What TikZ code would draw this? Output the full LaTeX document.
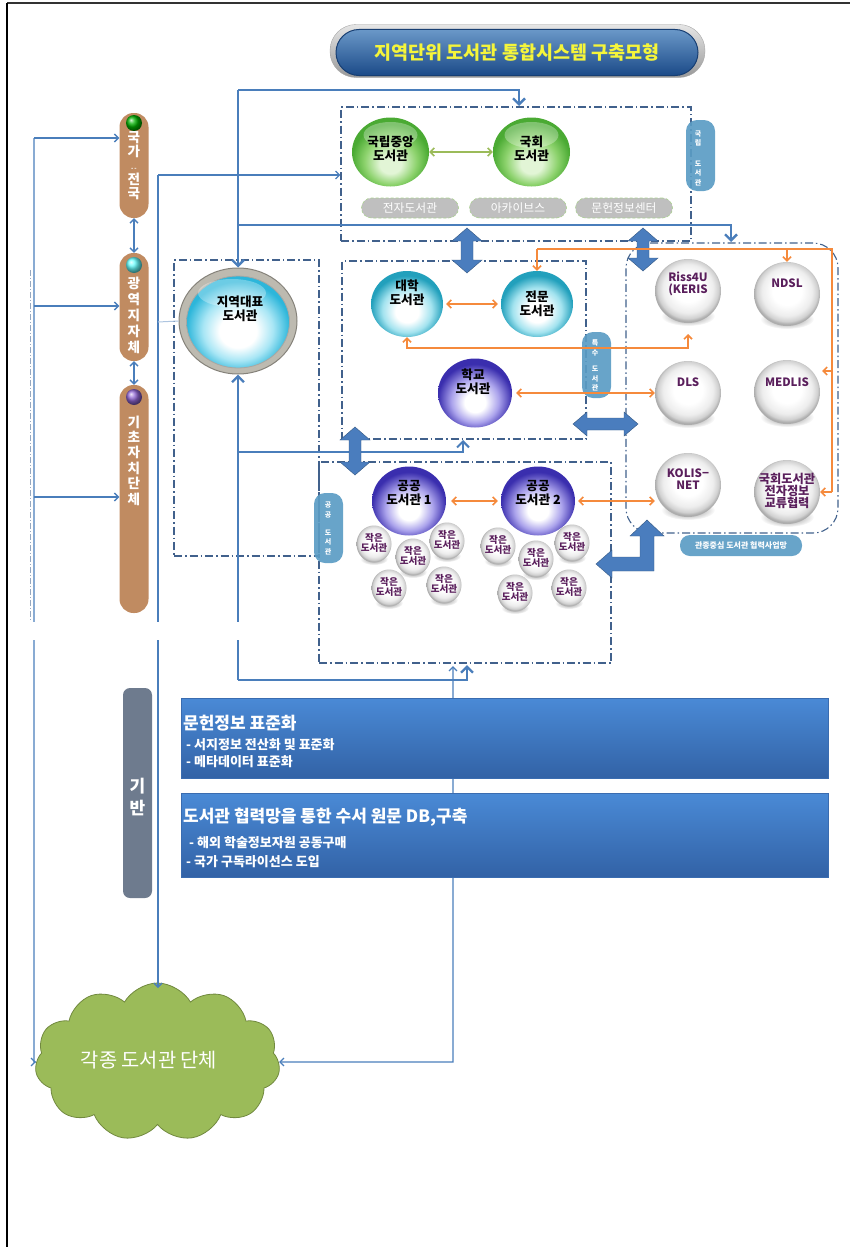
\documentclass[tikz,border=0pt]{standalone}
\usepackage{fontspec}
\setmainfont{Noto Sans CJK KR}
\usetikzlibrary{shapes.geometric,shapes.symbols,arrows.meta,calc}

\definecolor{lnblue}{HTML}{4A7EBB}
\definecolor{dashblue}{HTML}{41618C}
\definecolor{orng}{HTML}{F58A3C}
\definecolor{olivegr}{HTML}{9BBB59}
\definecolor{brownpill}{HTML}{C08B61}
\definecolor{tagblue}{HTML}{5B9CC4}
\definecolor{purpletext}{HTML}{5A1F5C}
\definecolor{cloudgreen}{HTML}{9BBB59}
\definecolor{cloudedge}{HTML}{71893F}
\definecolor{slate}{HTML}{6E7B8E}
\definecolor{titleyellow}{HTML}{F5F53A}
\definecolor{ttop}{HTML}{6A98C8}
\definecolor{tbot}{HTML}{1B4A88}
\definecolor{tedge}{HTML}{173E72}
\definecolor{bxtop}{HTML}{4A8AD6}
\definecolor{bxbot}{HTML}{3262A6}
\definecolor{bxedge}{HTML}{3A6CB0}
\definecolor{pillgray}{HTML}{BFBFBF}
\definecolor{pillgreen}{HTML}{A9D18E}
\definecolor{blockblue}{HTML}{4A7DBE}
\definecolor{gRim}{HTML}{4AAA33}
\definecolor{gMid}{HTML}{8CD26C}
\definecolor{gIn}{HTML}{E2F5D6}
\definecolor{cRim}{HTML}{22A0BC}
\definecolor{cMid}{HTML}{A3E3EF}
\definecolor{pRim}{HTML}{3A2EAE}
\definecolor{pMid}{HTML}{ABA3EC}
\definecolor{bRim}{HTML}{2DB6DA}
\definecolor{bMid}{HTML}{A8E6F5}
\definecolor{ringC}{HTML}{BDBAB0}
\definecolor{ringE}{HTML}{85827A}

\pgfdeclareradialshading{shGreen}{\pgfpoint{0bp}{-10bp}}{color(0bp)=(gIn); color(7bp)=(gIn); color(17bp)=(gMid); color(25bp)=(gRim); color(50bp)=(gRim)}
\pgfdeclareradialshading{shCyan}{\pgfpoint{0bp}{-7bp}}{color(0bp)=(white); color(8bp)=(white); color(17bp)=(cMid); color(25bp)=(cRim); color(50bp)=(cRim)}
\pgfdeclareradialshading{shPurple}{\pgfpoint{0bp}{-8bp}}{color(0bp)=(white); color(7bp)=(white); color(16bp)=(pMid); color(25bp)=(pRim); color(50bp)=(pRim)}
\pgfdeclareradialshading{shBig}{\pgfpoint{0bp}{-6bp}}{color(0bp)=(white); color(9bp)=(white); color(17bp)=(bMid); color(25bp)=(bRim); color(50bp)=(bRim)}
\pgfdeclareradialshading{shGray}{\pgfpoint{0bp}{3bp}}{color(0bp)=(white); color(11bp)=(white); color(19bp)=(black!7); color(23bp)=(black!18); color(25bp)=(black!32); color(50bp)=(black!32)}

\newcommand\vdblarrow[3]{%
  \fill[blockar] (#1,#2) -- ++(15,13) -- ++(-9,0) -- (#1+6,#3-13) -- ++(9,0) -- (#1,#3)
    -- ++(-15,-13) -- ++(9,0) -- (#1-6,#2+13) -- ++(-9,0) -- cycle;}
\newcommand\hdblarrow[3]{%
  \fill[blockar] (#2,#1) -- ++(14,-12) -- ++(0,6) -- (#3-14,#1-6) -- ++(0,-6) -- (#3,#1)
    -- ++(-14,12) -- ++(0,-6) -- (#2+14,#1+6) -- ++(0,6) -- cycle;}

\begin{document}
\begin{tikzpicture}[x=1pt,y=-1pt,
  thk/.style={draw=lnblue, line width=2.4pt},
  thn/.style={draw=lnblue, line width=1.3pt},
  ora/.style={draw=orng, line width=1.6pt},
  arrL/.style={-{Straight Barb[length=6pt,width=12pt]}},
  arrS/.style={-{Straight Barb[length=4pt,width=8pt]}},
  arrSS/.style={{Straight Barb[length=4pt,width=8pt]}-{Straight Barb[length=4pt,width=8pt]}},
  dd/.style={draw=dashblue, line width=1.1pt, dash pattern=on 8pt off 3pt on 1.5pt off 3pt, rectangle, inner sep=0pt},
  blockar/.style={fill=blockblue, draw=lnblue!70!black, line width=0.4pt},
  sphG/.style={ellipse, inner sep=0pt, minimum width=77pt, minimum height=69pt, shading=shGreen},
  sphC/.style={ellipse, inner sep=0pt, minimum width=72pt, minimum height=66pt, shading=shCyan},
  sphP/.style={ellipse, inner sep=0pt, minimum width=74pt, minimum height=69pt, shading=shPurple},
  sphY/.style={ellipse, inner sep=0pt, minimum width=66pt, minimum height=64pt, shading=shGray},
  smallsph/.style={ellipse, inner sep=0pt, minimum width=35pt, minimum height=37pt, shading=shGray},
  lbl/.style={font=\fontsize{12.6}{14}\selectfont\bfseries, align=center, inner sep=0pt},
  glbl/.style={font=\fontsize{11.5}{12.5}\selectfont\bfseries, align=center, text=purpletext, inner sep=0pt},
  stxt/.style={font=\fontsize{9.6}{10}\selectfont\bfseries, align=center, text=purpletext, inner sep=0pt},
  pill/.style={rectangle, rounded corners=14pt, fill=brownpill, minimum width=29pt, inner sep=0pt},
  ptxt/.style={text=white, align=center, inner sep=0pt},
  tag/.style={rectangle, rounded corners=11pt, fill=tagblue, fill opacity=0.92, minimum width=29pt, inner sep=0pt},
  tagtxt/.style={text=white, align=center, inner sep=0pt},
  gpill/.style={rectangle, rounded corners=10pt, minimum width=97pt, minimum height=20pt, fill=pillgray, draw=pillgreen, densely dashed, line width=0.6pt, text=white, font=\fontsize{11.8}{12}\selectfont, inner sep=0pt},
  bbox/.style={rectangle, inner sep=0pt, top color=bxtop, bottom color=bxbot, draw=bxedge, line width=0.6pt},
  bhead/.style={font=\fontsize{17}{18}\selectfont\bfseries, text=white, inner sep=0pt, anchor=west},
  bsub/.style={font=\fontsize{13}{14}\selectfont\bfseries, text=white, inner sep=0pt, anchor=west}
]
\useasboundingbox (0,0) rectangle (850,1247);

% frame
\draw[black!80, line width=1.2pt] (850,3) -- (7,3);
\draw[black, line width=1.5pt] (7,3) -- (7,1247);

% title
\node[rectangle, rounded corners=26pt, minimum width=375pt, minimum height=53pt, top color=black!10, bottom color=black!40, draw=black!35, inner sep=0pt] (tout) at (517.5,51) {};
\node[rectangle, rounded corners=23pt, minimum width=362pt, minimum height=46pt, top color=ttop, bottom color=tbot, draw=tedge, line width=1pt, inner sep=0pt] (tinner) at (517,52.5) {};
\node[font=\fontsize{18.5}{19}\selectfont\bfseries, text=titleyellow, inner sep=0pt] (ttl) at (517,53) {지역단위 도서관 통합시스템 구축모형};

% dashed boxes
\node[dd, minimum width=350pt, minimum height=134pt] (nlbox) at (516,174) {};
\node[dd, minimum width=145pt, minimum height=296pt] (jbox) at (246.5,408) {};
\node[dd, minimum width=244pt, minimum height=178pt] (tbox) at (464,350) {};
\node[dd, minimum width=292pt, minimum height=201pt] (gbox) at (465,562.5) {};
\node[dd, rounded corners=25pt, minimum width=212pt, minimum height=290pt] (rbox) at (732,388) {};
\draw[dashblue!55, line width=0.6pt, dash pattern=on 6pt off 2pt on 1pt off 2pt] (30,270) -- (30,620);

% coordinates
\coordinate (u1) at (238,90);
\coordinate (u2) at (238,225);
\coordinate (nlin) at (519,106);
\coordinate (rin) at (731,242);
\coordinate (d1) at (238,680);
\coordinate (d2) at (238,452);
\coordinate (tin) at (463,440);
\coordinate (gin) at (467,665);
\coordinate (a1) at (34,138);
\coordinate (a2) at (34,306);
\coordinate (a3) at (34,497);
\coordinate (a4) at (34,1062);
\coordinate (b1) at (158,175);
\coordinate (b2) at (158,322);
\coordinate (b3) at (158,988);
\coordinate (c1) at (453,666);
\coordinate (c2) at (453,1062);
\coordinate (oR) at (688,348);
\coordinate (oT) at (688,334);
\coordinate (p1) at (537,249);
\coordinate (p2) at (832,249);
\coordinate (p3) at (832,492);
\coordinate (p4) at (787,249);
\coordinate (p5) at (832,371);
\coordinate (p6) at (822,371);

% pills (left)
\node[pill, minimum height=105pt] (gk) at (134,165.5) {};
\node[pill, minimum height=108pt] (gw) at (134,307) {};
\node[pill, minimum height=228pt] (gc) at (134,499) {};
\node[circle, minimum size=16pt, inner sep=0pt, ball color=green!70!black] (gkc) at (134,123) {};
\node[circle, minimum size=16pt, inner sep=0pt, ball color=cyan!60] (gwc) at (134,265) {};
\node[circle, minimum size=16pt, inner sep=0pt, ball color=blue!45!violet!60] (gcc) at (134,397) {};
\node[ptxt, font=\fontsize{13.6}{14}\selectfont\bfseries] (gk-t) at (134,166) {국\\가\\{\fontsize{6}{6}\selectfont -\,-}\\전\\국};
\node[ptxt, font=\fontsize{13.6}{16}\selectfont\bfseries] (gw-t) at (134,315.5) {광\\역\\지\\자\\체};
\node[ptxt, font=\fontsize{13.6}{15.4}\selectfont\bfseries] (gc-t) at (134,460.5) {기\\초\\자\\치\\단\\체};

% cloud
\node[cloud, cloud puffs=11, cloud puff arc=120, aspect=1.55, minimum width=245pt, minimum height=158pt, fill=cloudgreen, draw=cloudedge, line width=0.8pt, inner sep=0pt] (cloud) at (157.5,1062) {};
\node[font=\fontsize{19.8}{20}\selectfont, text=white, inner sep=0pt] (cloud-t) at (149,1060) {각종 도서관 단체};

% thin connectors
\draw[thn] (a1) -- (a4) -- (cloud.west);
\draw[thn, arrS] (a4) -- (cloud.west);
\draw[thn, arrS] (a1) -- (a1 -| gk.west);
\draw[thn, arrS] (a2) -- (a2 -| gw.west);
\draw[thn, arrS] (a3) -- (a3 -| gc.west);
\draw[thn, arrS] (b1) -- (b3);
\draw[thn, arrS] (b1) -- (b1 -| nlbox.west);
\draw[thn, arrSS] (gk.south) -- (gw.north);
\draw[thn, arrSS] (gw.south) -- (gc.north);
\draw[thn, arrSS] (c1) -- (c2) -- (cloud.east);

% ring node for jiyeok
\node[ellipse, minimum width=118pt, minimum height=106pt, fill=ringC, draw=ringE, line width=1pt, inner sep=0pt] (jr) at (238,321) {};
\draw[lnblue!45, line width=1pt] (b2) -- (jr.west);

% thick connectors
\draw[thk, arrL] (u1) -- (jr.north);
\draw[thk, arrL] (u1) -| (nlin);
\draw[thk, arrL] (u2) -| (rin);
\draw[thk, arrL] (d1) -- (jr.south);
\draw[thk, line width=2pt, arrL] (d2) -| (tin);
\draw[thk, arrL] (d1) -| (gin);

% gap (page break)
\fill[white] (9,622) rectangle (310,640);

% bottom blue boxes
\node[bbox, minimum width=647pt, minimum height=80pt] (bx1) at (504.5,738) {};
\node[bbox, minimum width=647pt, minimum height=84pt] (bx2) at (504.5,835) {};
\node[bhead] (bx1h) at (183,723) {문헌정보 표준화};
\node[bsub] (bx1a) at (186,745) {- 서지정보 전산화 및 표준화};
\node[bsub] (bx1b) at (186,762) {- 메타데이터 표준화};
\node[bhead] (bx2h) at (183,817) {도서관 협력망을 통한 수서 원문 DB,구축};
\node[bsub] (bx2a) at (189,843) {- 해외 학술정보자원 공동구매};
\node[bsub] (bx2b) at (186,862) {- 국가 구독라이선스 도입};
\node[rectangle, rounded corners=7pt, fill=slate, minimum width=29pt, minimum height=210pt, inner sep=0pt] (gib) at (137.5,793) {};
\node[ptxt, font=\fontsize{17}{22}\selectfont\bfseries] (gib-t) at (137.5,797) {기\\반};

% block arrows
\vdblarrow{467}{228}{273}
\vdblarrow{643}{228}{271}
\vdblarrow{355}{427}{475}
\hdblarrow{424}{573}{638}
\fill[blockar] (647,520) -- (664,536) -- (654,536) -- (654,571) -- (612,571) -- (612,578) -- (596,564)
  -- (612,550) -- (612,557) -- (640,557) -- (640,536) -- (630,536) -- cycle;

% tags
\node[tag, minimum height=71pt] (tagn) at (700.5,155.5) {};
\node[tagtxt, font=\fontsize{7}{9.5}\selectfont\bfseries] (tagn-t) at (698,158) {국\\립\\[11pt]도\\서\\관};
\node[tag, minimum height=66pt] (tags) at (596.5,365) {};
\node[tagtxt, font=\fontsize{7}{9.3}\selectfont\bfseries] (tags-t) at (595,365.5) {특\\수\\[7.5pt]도\\서\\관};
\node[tag, minimum height=70pt] (tagg) at (328.5,528) {};
\node[tagtxt, font=\fontsize{7}{9.6}\selectfont\bfseries] (tagg-t) at (328,528.5) {공\\공\\[8pt]도\\서\\관};
\node[tag, rounded corners=10pt, minimum width=122pt, minimum height=21pt] (tagr) at (741,545.5) {};
\node[tagtxt, font=\fontsize{8}{8}\selectfont\bfseries] (tagr-t) at (741,545.5) {관종중심 도서관 협력사업망};

% national library group
\node[sphG] (nlk) at (390.5,152) {};
\node[sphG] (nat) at (531.5,152) {};
\fill[white, opacity=0.3] (390.5,135) ellipse (27 and 13);
\fill[white, opacity=0.3] (531.5,135) ellipse (27 and 13);
\node[lbl] (nlk-t) at (390.5,149) {국립중앙\\도서관};
\node[lbl] (nat-t) at (531.5,149) {국회\\도서관};
\draw[olivegr, line width=1.5pt, arrSS] (nlk) -- (nat);
\node[gpill] (p-e) at (410,208) {전자도서관};
\node[gpill] (p-a) at (518,208) {아카이브스};
\node[gpill] (p-m) at (624,208) {문헌정보센터};

% jiyeok inner
\node[ellipse, minimum width=103pt, minimum height=92pt, shading=shBig, draw=ringE!70, line width=0.8pt, inner sep=0pt] (ji) at (238,322) {};
\fill[white, opacity=0.3] (232,293) ellipse (34 and 14);
\node[lbl] (ji-t) at (240,309) {지역대표\\도서관};

% special libraries
\node[sphC] (dh) at (407,304) {};
\node[sphC] (jm) at (537,304) {};
\node[sphP] (hk) at (475,393) {};
\node[lbl] (dh-t) at (407,293) {대학\\도서관};
\node[lbl] (jm-t) at (537,304) {전문\\도서관};
\node[lbl] (hk-t) at (473,382) {학교\\도서관};

% public libraries
\node[sphP] (g1) at (409,501) {};
\node[sphP] (g2) at (538,501) {};
\node[lbl] (g1-t) at (409,493) {공공\\도서관 1};
\node[lbl] (g2-t) at (538,493) {공공\\도서관 2};
\foreach \n/\x/\y in {1/374/544, 2/413/557, 3/447/541, 4/389/588, 5/444/585, 6/498/546, 7/536/559, 8/572/543, 9/515/593, 10/569/588}{
  \shade[inner color=black!45, outer color=white] (\x,\y+15) ellipse (14 and 6);
}
\foreach \n/\x/\y in {1/374/544, 2/413/557, 3/447/541, 4/389/588, 5/444/585, 6/498/546, 7/536/559, 8/572/543, 9/515/593, 10/569/588}{
  \node[smallsph] (s\n) at (\x,\y) {};
  \node[stxt] (s\n-t) at (\x,\y-1) {작은\\도서관};
}

% gray spheres
\foreach \x/\y in {688/291, 787/294, 688/393, 787/392, 688/485, 787/492}{
  \shade[inner color=black!50, outer color=white] (\x,\y+25) ellipse (27 and 10);
}
\node[sphY] (riss) at (688,291) {};
\node[sphY] (ndsl) at (787,294) {};
\node[sphY] (dls) at (688,393) {};
\node[sphY] (medlis) at (787,392) {};
\node[sphY] (kolis) at (688,485) {};
\node[sphY] (kh) at (787,492) {};
\node[glbl] (riss-t) at (688,284) {Riss4U\\(KERIS};
\node[glbl] (ndsl-t) at (787,283) {NDSL};
\node[glbl] (dls-t) at (688,382) {DLS};
\node[glbl] (medlis-t) at (787,382) {MEDLIS};
\node[glbl] (kolis-t) at (688,479) {KOLIS−\\NET};
\node[glbl, font=\fontsize{12.2}{11.8}\selectfont\bfseries] (kh-t) at (787,491) {국회도서관\\전자정보\\교류협력};

% orange connectors
\draw[ora, arrSS, shorten <=3pt, shorten >=3pt] (dh) -- (jm);
\draw[ora, arrSS, shorten <=4pt] (hk) -- (dls);
\draw[ora, arrSS, shorten <=5pt, shorten >=3pt] (g1) -- (g2);
\draw[ora, arrSS, shorten <=3pt] (g2.east) -- (g2.east -| kolis.west);
\draw[ora, arrSS] (dh.south) |- (oR) -- (oT);
\draw[ora, arrS] (p1) -- (jm.north);
\draw[ora] (p1) -- (p2) -- (p3);
\draw[ora, arrS] (p3) -- (kh.east);
\draw[ora, arrS] (p4) -- (ndsl.north);
\draw[ora, arrS] (p5) -- (p6);

\end{tikzpicture}
\end{document}
